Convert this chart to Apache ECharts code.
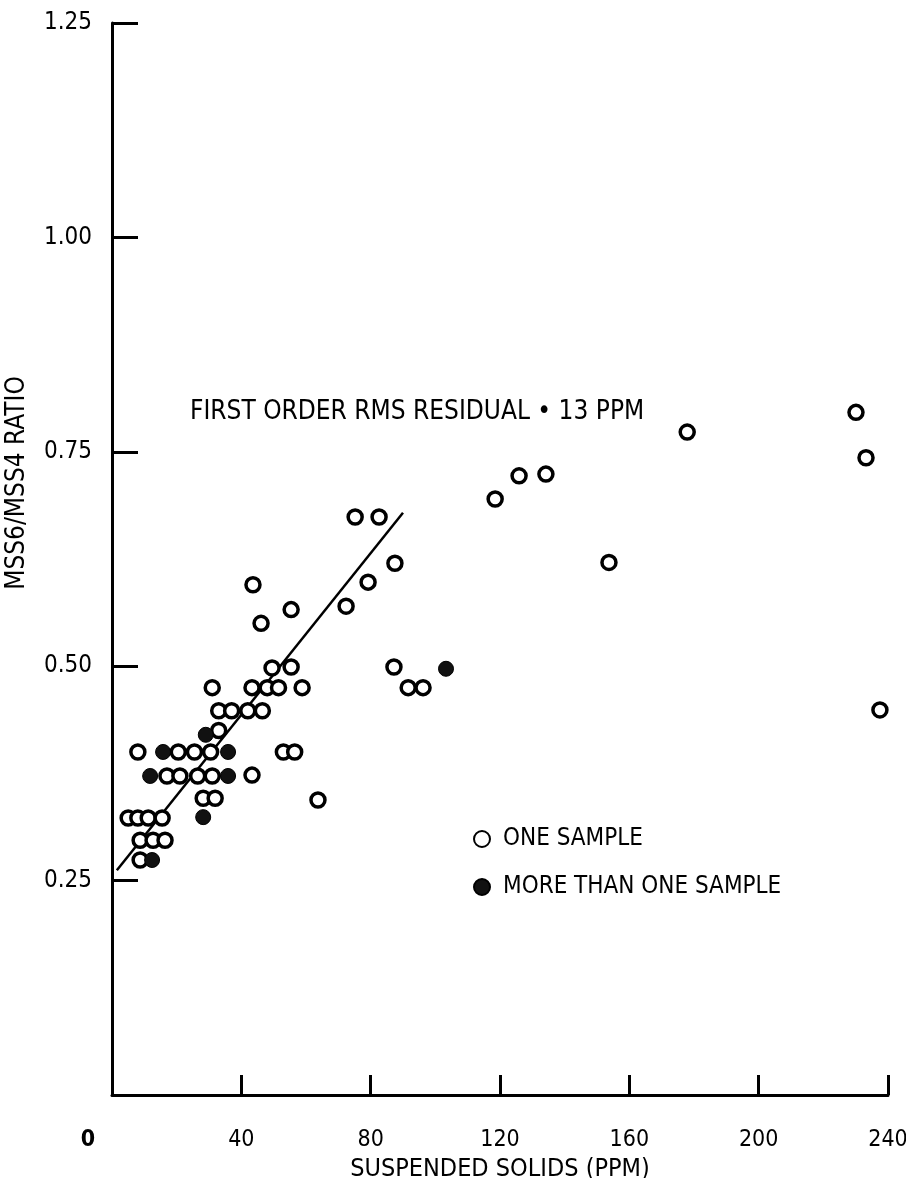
<!DOCTYPE html>
<html>
<head>
<meta charset="utf-8">
<script src="https://cdn.jsdelivr.net/npm/echarts@6/dist/echarts.min.js"></script>
<style>
html,body{margin:0;padding:0;background:#fff;}
#chart{width:906px;height:1178px;}
</style>
</head>
<body>
<div id="chart"></div>
<script>
// ---- data ----
const xTicks = [0, 40, 80, 120, 160, 200, 240];
const yTicks = [0.25, 0.50, 0.75, 1.00, 1.25];

// open circles: one sample  [suspended solids ppm, MSS6/MSS4 ratio]
const oneSample = [
  [43.6,0.595],[55.4,0.566],[46.1,0.550],[72.4,0.570],[79.2,0.598],[87.5,0.620],[75.2,0.674],[82.6,0.674],
  [49.5,0.498],[55.4,0.499],
  [31.0,0.475],[43.3,0.475],[48.0,0.475],[51.5,0.475],[58.8,0.475],
  [33.0,0.448],[37.0,0.448],[42.0,0.448],[46.5,0.448],
  [33.0,0.425],
  [8.0,0.400],[20.5,0.400],[25.5,0.400],[30.5,0.400],[53.0,0.400],[56.5,0.400],
  [17.0,0.372],[21.0,0.372],[26.5,0.372],[31.0,0.372],[43.3,0.373],
  [28.2,0.346],[31.9,0.346],[63.7,0.344],
  [5.0,0.323],[8.0,0.323],[11.2,0.323],[15.5,0.323],
  [8.7,0.297],[12.7,0.297],[16.4,0.297],
  [8.7,0.274],
  [87.2,0.499],[91.6,0.475],[96.2,0.475],
  [118.5,0.695],[125.9,0.722],[134.2,0.724],[153.7,0.621],[177.9,0.773],
  [230.1,0.796],[233.2,0.743],[237.5,0.449]
];
// filled circles: more than one sample
const multiSample = [
  [29.0,0.420],[15.8,0.400],[35.9,0.400],[11.8,0.372],[35.9,0.372],[28.2,0.324],[12.4,0.274],[103.3,0.497]
];
// first order fit line end points
const fitLine = [[1.5,0.262],[90,0.679]];

const FONT = "'Liberation Sans Narrow','DejaVu Sans Condensed','Liberation Sans',sans-serif";

const chart = echarts.init(document.getElementById('chart'), null, {renderer:'canvas'});
chart.setOption({
  backgroundColor:'#fff',
  animation:false,
  grid:{left:112, right:18, top:23, bottom:83, containLabel:false, outerBoundsMode:'none'},
  xAxis:{
    type:'value', min:0, max:240, interval:40,
    axisLine:{show:true, lineStyle:{color:'#000', width:3}},
    axisTick:{show:true, inside:true, length:20, lineStyle:{color:'#000', width:3}},
    splitLine:{show:false},
    axisLabel:{
      color:'#000', fontSize:23, fontFamily:FONT, margin:34,
      formatter:function(v){ return v===0 ? '{z|0}' : String(v); },
      rich:{z:{fontSize:23, fontFamily:FONT, color:'#000', fontWeight:'bold', padding:[0,48,0,0]}}
    },
    name:'SUSPENDED SOLIDS (PPM)', nameLocation:'middle', nameGap:60,
    nameTextStyle:{color:'#000', fontSize:25, fontFamily:FONT}
  },
  yAxis:{
    type:'value', min:0, max:1.25, interval:0.25,
    axisLine:{show:true, lineStyle:{color:'#000', width:3}},
    axisTick:{show:true, inside:true, length:26, lineStyle:{color:'#000', width:3}},
    splitLine:{show:false},
    axisLabel:{
      color:'#000', fontSize:24, fontFamily:FONT, margin:20,
      formatter:function(v){ return v===0 ? '' : v.toFixed(2); }
    }
  },
  legend:{
    orient:'vertical', left:468, top:822, itemGap:24,
    itemWidth:16, itemHeight:16,
    textStyle:{color:'#000', fontSize:24, fontFamily:FONT, padding:[0,0,0,8]},
    data:['ONE SAMPLE','MORE THAN ONE SAMPLE']
  },
  graphic:[
    {type:'text', x:17, y:483, rotation:Math.PI/2,
     style:{text:'MSS6/MSS4 RATIO', fill:'#000', font:'26px '+FONT, textAlign:'center', textVerticalAlign:'middle'}},
    {type:'text', x:190, y:412,
     style:{text:'FIRST ORDER RMS RESIDUAL \u2022 13 PPM', fill:'#000', font:'26px '+FONT, textAlign:'left', textVerticalAlign:'middle'}}
  ],
  series:[
    {type:'line', data:fitLine, symbol:'none', z:1,
     lineStyle:{color:'#000', width:2.5}},
    {name:'ONE SAMPLE', type:'scatter', data:oneSample, symbol:'circle', symbolSize:14, z:3,
     itemStyle:{color:'#fff', borderColor:'#000', borderWidth:3.5, opacity:1}},
    {name:'MORE THAN ONE SAMPLE', type:'scatter', data:multiSample, symbol:'circle', symbolSize:15, z:4,
     itemStyle:{color:'#111', borderColor:'#000', borderWidth:1, opacity:1}}
  ]
});
</script>
</body>
</html>
